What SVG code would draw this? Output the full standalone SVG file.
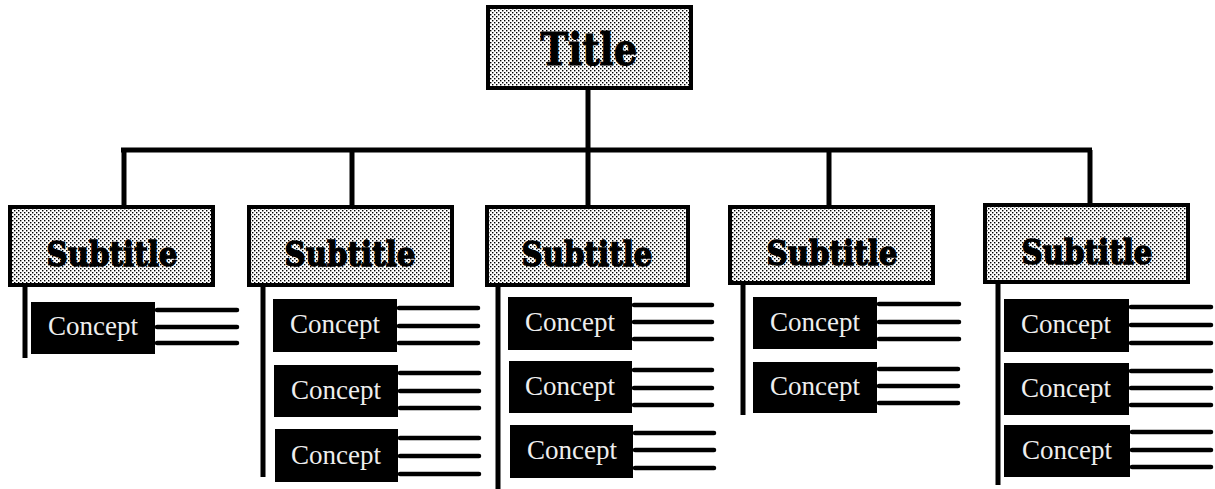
<svg xmlns="http://www.w3.org/2000/svg" width="1215" height="489" viewBox="0 0 1215 489">
<defs>
<pattern id="dots" width="4" height="4" patternUnits="userSpaceOnUse">
<rect width="4" height="4" fill="#ffffff"/>
<rect x="0" y="0" width="1.4" height="1.4" fill="#000"/>
<rect x="2" y="2" width="1.4" height="1.4" fill="#000"/>
</pattern>
</defs>
<style>
.hd{fill:url(#dots);stroke:#000;stroke-width:4}
.ttl{font-family:"DejaVu Serif",serif;font-weight:bold;font-size:45px;fill:#000;stroke:#000;stroke-width:1;text-anchor:middle}
.sub{font-family:"DejaVu Serif",serif;font-weight:bold;font-size:34px;fill:#000;stroke:#000;stroke-width:1.4;text-anchor:middle}
.cb{fill:#000}
.ct{font-family:"Liberation Serif",serif;font-size:27px;fill:#eeeeee;text-anchor:middle}
.ln{stroke:#000;stroke-width:4.5;stroke-linecap:round}
.cn{stroke:#000;stroke-width:5;fill:none}
</style>
<rect width="1215" height="489" fill="#fff"/>
<g id="connectors">
<line class="cn" x1="588" y1="88" x2="588" y2="150"/>
<line class="cn" x1="121" y1="150" x2="1092" y2="150"/>
<line class="cn" x1="124" y1="150" x2="124" y2="207"/>
<line class="cn" x1="352" y1="150" x2="352" y2="207"/>
<line class="cn" x1="588" y1="150" x2="588" y2="207"/>
<line class="cn" x1="829" y1="150" x2="829" y2="207"/>
<line class="cn" x1="1090" y1="150" x2="1090" y2="205"/>
<line class="cn" x1="25" y1="285" x2="25" y2="358"/>
<line class="cn" x1="263" y1="285" x2="263" y2="477"/>
<line class="cn" x1="498" y1="285" x2="498" y2="489"/>
<line class="cn" x1="743" y1="283" x2="743" y2="415"/>
<line class="cn" x1="998" y1="282" x2="998" y2="485"/>
</g>
<g id="title">
<rect class="hd" x="488" y="7" width="203" height="81"/>
<text class="ttl" x="589" y="65" textLength="97" lengthAdjust="spacingAndGlyphs">Title</text>
</g>
<g id="subtitle1">
<rect class="hd" x="10" y="207" width="203" height="78"/>
<text class="sub" x="112" y="266" textLength="131" lengthAdjust="spacingAndGlyphs">Subtitle</text>
</g>
<g id="subtitle2">
<rect class="hd" x="249" y="207" width="203" height="78"/>
<text class="sub" x="350" y="266" textLength="131" lengthAdjust="spacingAndGlyphs">Subtitle</text>
</g>
<g id="subtitle3">
<rect class="hd" x="487" y="207" width="201" height="78"/>
<text class="sub" x="587" y="266" textLength="131" lengthAdjust="spacingAndGlyphs">Subtitle</text>
</g>
<g id="subtitle4">
<rect class="hd" x="730" y="207" width="203" height="76"/>
<text class="sub" x="832" y="265" textLength="131" lengthAdjust="spacingAndGlyphs">Subtitle</text>
</g>
<g id="subtitle5">
<rect class="hd" x="985" y="205" width="203" height="77"/>
<text class="sub" x="1087" y="264" textLength="131" lengthAdjust="spacingAndGlyphs">Subtitle</text>
</g>
<g id="concept1-1">
<rect class="cb" x="31" y="302" width="124" height="52"/>
<text class="ct" x="93" y="335">Concept</text>
<line class="ln" x1="157" y1="310" x2="237" y2="310"/>
<line class="ln" x1="157" y1="327" x2="237" y2="327"/>
<line class="ln" x1="157" y1="343" x2="237" y2="343"/>
</g>
<g id="concept2-1">
<rect class="cb" x="273" y="299" width="124" height="53"/>
<text class="ct" x="335" y="333">Concept</text>
<line class="ln" x1="399" y1="308" x2="478" y2="308"/>
<line class="ln" x1="399" y1="326" x2="478" y2="326"/>
<line class="ln" x1="399" y1="343" x2="478" y2="343"/>
</g>
<g id="concept2-2">
<rect class="cb" x="274" y="365" width="124" height="52"/>
<text class="ct" x="336" y="399">Concept</text>
<line class="ln" x1="400" y1="373" x2="479" y2="373"/>
<line class="ln" x1="400" y1="391" x2="479" y2="391"/>
<line class="ln" x1="400" y1="408" x2="479" y2="408"/>
</g>
<g id="concept2-3">
<rect class="cb" x="275" y="429" width="123" height="53"/>
<text class="ct" x="336" y="464">Concept</text>
<line class="ln" x1="400" y1="438" x2="479" y2="438"/>
<line class="ln" x1="400" y1="456" x2="479" y2="456"/>
<line class="ln" x1="400" y1="474" x2="479" y2="474"/>
</g>
<g id="concept3-1">
<rect class="cb" x="508" y="297" width="124" height="53"/>
<text class="ct" x="570" y="331">Concept</text>
<line class="ln" x1="634" y1="305" x2="712" y2="305"/>
<line class="ln" x1="634" y1="322" x2="712" y2="322"/>
<line class="ln" x1="634" y1="339" x2="712" y2="339"/>
</g>
<g id="concept3-2">
<rect class="cb" x="509" y="361" width="123" height="52"/>
<text class="ct" x="570" y="395">Concept</text>
<line class="ln" x1="634" y1="370" x2="712" y2="370"/>
<line class="ln" x1="634" y1="388" x2="712" y2="388"/>
<line class="ln" x1="634" y1="405" x2="712" y2="405"/>
</g>
<g id="concept3-3">
<rect class="cb" x="510" y="425" width="123" height="53"/>
<text class="ct" x="572" y="459">Concept</text>
<line class="ln" x1="635" y1="433" x2="714" y2="433"/>
<line class="ln" x1="635" y1="450" x2="714" y2="450"/>
<line class="ln" x1="635" y1="468" x2="714" y2="468"/>
</g>
<g id="concept4-1">
<rect class="cb" x="753" y="297" width="124" height="52"/>
<text class="ct" x="815" y="331">Concept</text>
<line class="ln" x1="879" y1="304" x2="959" y2="304"/>
<line class="ln" x1="879" y1="322" x2="959" y2="322"/>
<line class="ln" x1="879" y1="339" x2="959" y2="339"/>
</g>
<g id="concept4-2">
<rect class="cb" x="753" y="362" width="124" height="51"/>
<text class="ct" x="815" y="395">Concept</text>
<line class="ln" x1="879" y1="369" x2="958" y2="369"/>
<line class="ln" x1="879" y1="386" x2="958" y2="386"/>
<line class="ln" x1="879" y1="403" x2="958" y2="403"/>
</g>
<g id="concept5-1">
<rect class="cb" x="1004" y="299" width="125" height="53"/>
<text class="ct" x="1066" y="333">Concept</text>
<line class="ln" x1="1131" y1="307" x2="1211" y2="307"/>
<line class="ln" x1="1131" y1="325" x2="1211" y2="325"/>
<line class="ln" x1="1131" y1="343" x2="1211" y2="343"/>
</g>
<g id="concept5-2">
<rect class="cb" x="1004" y="363" width="125" height="52"/>
<text class="ct" x="1066" y="397">Concept</text>
<line class="ln" x1="1131" y1="371" x2="1211" y2="371"/>
<line class="ln" x1="1131" y1="388" x2="1211" y2="388"/>
<line class="ln" x1="1131" y1="405" x2="1211" y2="405"/>
</g>
<g id="concept5-3">
<rect class="cb" x="1004" y="425" width="126" height="52"/>
<text class="ct" x="1067" y="459">Concept</text>
<line class="ln" x1="1132" y1="432" x2="1211" y2="432"/>
<line class="ln" x1="1132" y1="450" x2="1211" y2="450"/>
<line class="ln" x1="1132" y1="467" x2="1211" y2="467"/>
</g>
</svg>
